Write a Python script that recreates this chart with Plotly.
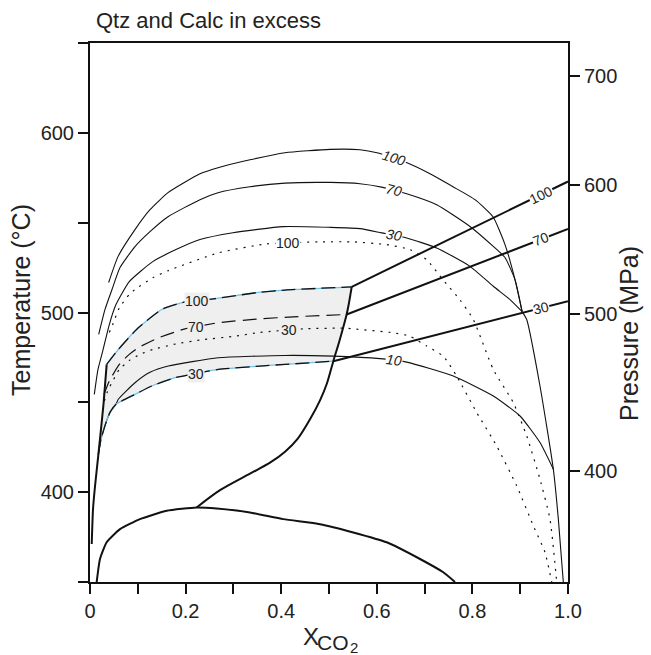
import numpy as np
import plotly.graph_objects as go

# ---------------- data (x = X_CO2, T in deg C) ----------------
CURVE100_X = [0.039, 0.0586, 0.0941, 0.1255, 0.1632, 0.2301, 0.2678, 0.3347, 0.4079, 0.5021, 0.5649, 0.6004,
              0.6632, 0.7113, 0.7594, 0.8054, 0.8431, 0.8682, 0.8891, 0.904]
CURVE100_T = [516.7, 531.1, 546.1, 557.2, 566.7, 577.2, 580.6, 585.0, 588.9, 590.8, 590.6, 588.9,
              583.3, 577.2, 570.0, 562.8, 553.3, 537.8, 518.3, 500.5]

CURVE70_X = [0.0182, 0.0314, 0.046, 0.0628, 0.0941, 0.1255, 0.1632, 0.2301, 0.2678, 0.3347, 0.4079, 0.5021,
             0.5649, 0.6102, 0.6625, 0.7253, 0.795, 0.8437, 0.8682, 0.8891, 0.904]
CURVE70_T = [487.8, 501.7, 512.8, 525.0, 536.7, 545.0, 553.3, 562.8, 566.7, 570.0, 572.0, 572.4,
             571.7, 569.8, 566.1, 560.0, 547.9, 536.8, 530.6, 518.3, 500.5]

CURVE30_X = [0.009, 0.0167, 0.0266, 0.0404, 0.0544, 0.0822, 0.1312, 0.1799, 0.2301, 0.2992, 0.4038, 0.5021,
             0.5649, 0.6102, 0.6625, 0.7253, 0.795, 0.8437, 0.8787, 0.904]
CURVE30_T = [454.4, 468.3, 478.5, 493.3, 504.4, 517.2, 528.3, 535.0, 540.6, 544.4, 547.8, 547.4,
             546.7, 544.3, 541.5, 535.9, 525.7, 514.6, 507.2, 500.5]

STEEP_X = [0.904, 0.9136, 0.9414, 0.9693, 0.9798, 0.9902]
STEEP_T = [500.5, 496.1, 459.1, 412.8, 385.0, 350.0]

CURVE10_X = [0.0174, 0.023, 0.0335, 0.0418, 0.0544, 0.0592, 0.0941, 0.1255, 0.1638, 0.2684, 0.4079, 0.5084,
             0.6067, 0.6625, 0.76, 0.8437, 0.8996, 0.9414, 0.9693]
CURVE10_T = [421.1, 429.4, 438.7, 444.4, 448.9, 451.7, 460.9, 466.7, 470.2, 474.8, 476.1, 475.7,
             474.3, 472.4, 464.6, 453.5, 442.4, 427.6, 412.8]

# boundaries of the shaded field
UPPER_X = [0.0349, 0.0592, 0.101, 0.15, 0.1987, 0.258, 0.3556, 0.4079, 0.5475]
UPPER_T = [471.1, 479.4, 491.5, 501.7, 505.9, 507.6, 511.3, 512.5, 514.3]
LOWER_X = [0.0174, 0.023, 0.0335, 0.0418, 0.0544, 0.0941, 0.1291, 0.1778, 0.2684, 0.3556, 0.4079, 0.509]
LOWER_T = [421.1, 429.4, 438.7, 444.4, 448.9, 454.4, 459.1, 463.7, 468.3, 470.2, 471.1, 472.9]

INNER70_X = [0.0293, 0.0404, 0.0613, 0.0822, 0.101, 0.1429, 0.1987, 0.2684, 0.3556, 0.4253, 0.5368]
INNER70_T = [454.4, 461.8, 471.1, 476.7, 480.4, 485.9, 490.9, 494.3, 496.5, 497.6, 498.9]

DOT30_X = [0.03, 0.037, 0.0475, 0.0613, 0.0822, 0.1046, 0.1312, 0.1799, 0.2301, 0.3033, 0.3556, 0.4462,
           0.5299, 0.5508, 0.6345, 0.6695, 0.7044, 0.7391, 0.7671, 0.809, 0.8508, 0.8927, 0.9274, 0.9519, 0.9659]
DOT30_T = [450.7, 456.3, 461.8, 468.3, 473.3, 476.7, 479.4, 482.5, 484.7, 486.8, 488.9, 490.9,
           491.3, 490.9, 488.7, 486.8, 481.3, 475.7, 464.6, 444.3, 425.7, 403.5, 381.3, 366.5, 350.0]

DOT100_X = [0.0404, 0.0475, 0.0613, 0.0822, 0.0941, 0.1312, 0.1638, 0.2684, 0.3697, 0.4812, 0.5508, 0.6207,
            0.6695, 0.7044, 0.7391, 0.7741, 0.8019, 0.8437, 0.8856, 0.9136, 0.9414, 0.9623, 0.9764]
DOT100_T = [488.9, 493.3, 502.6, 510.0, 512.8, 519.3, 523.3, 533.2, 538.2, 539.3, 539.3, 537.8,
            535.0, 529.4, 518.0, 507.0, 496.1, 468.3, 449.8, 431.3, 407.2, 385.0, 350.0]

REACTION_X = [0.5475, 0.5408, 0.5368, 0.5314, 0.5209, 0.509, 0.4958, 0.4812, 0.4603, 0.4351, 0.408, 0.3766,
              0.3347, 0.272, 0.2232]
REACTION_T = [514.3, 503.9, 498.9, 493.3, 483.3, 472.9, 460.6, 451.1, 440.6, 430.0, 422.5, 416.4,
              410.3, 401.1, 391.5]

DOME_X = [0.014, 0.0209, 0.0349, 0.0628, 0.1046, 0.1605, 0.2232, 0.2651, 0.3347, 0.4044, 0.4812, 0.5508,
          0.6207, 0.6904, 0.7391, 0.7636]
DOME_T = [350.0, 362.8, 372.1, 379.4, 385.0, 389.6, 391.5, 390.9, 388.7, 385.0, 382.2, 377.6,
          372.1, 362.8, 355.4, 350.0]

LEFT_X = [0.0036, 0.0063, 0.0105, 0.0174, 0.0282, 0.0349]
LEFT_T = [371.1, 390.6, 403.3, 420.6, 448.9, 471.1]

P100_X = [0.5475, 1.0]
P100_T = [514.3, 572.9]
P70_X = [0.5368, 1.0]
P70_T = [498.9, 546.5]
P30_X = [0.509, 1.0]
P30_T = [472.9, 506.3]

X_TICKS = [0, 0.1, 0.2, 0.3, 0.4, 0.5, 0.6, 0.7, 0.8, 0.9, 1.0]
X_TICKTEXT = ["0", " ", "0.2", " ", "0.4", " ", "0.6", " ", "0.8", " ", "1.0"]
T_TICKS = [350, 400, 450, 500, 550, 600, 650]
T_TICKTEXT = [" ", "400", " ", "500", " ", "600", " "]
P_TICKS = [400, 500, 600, 700]
P_TICKTEXT = ["400", "500", "600", "700"]

# ---------------- styling ----------------
FONT = "Liberation Sans, Arial, Helvetica, sans-serif"
FILL = "#efefef"
BLUE = "#72c3e8"
BLACK = "#111111"
TXT = "#222222"

fig = go.Figure()


def line(x, y, width=1.1, dash="solid", color=BLACK, smooth=0.5):
    fig.add_trace(go.Scatter(x=x, y=y, mode="lines", hoverinfo="skip",
                             line=dict(color=color, width=width, dash=dash, shape="spline", smoothing=smooth)))


# shaded field
poly_x = UPPER_X + REACTION_X[1:6] + LOWER_X[::-1][1:] + LEFT_X[3:]
poly_y = UPPER_T + REACTION_T[1:6] + LOWER_T[::-1][1:] + LEFT_T[3:]
fig.add_trace(go.Scatter(x=poly_x, y=poly_y, mode="lines", fill="toself", fillcolor=FILL,
                         line=dict(width=0), hoverinfo="skip"))

# thin solid curves
line(CURVE100_X, CURVE100_T)
line(CURVE70_X, CURVE70_T)
line(CURVE30_X, CURVE30_T)
line(STEEP_X, STEEP_T)
line(CURVE10_X, CURVE10_T)

# dotted curves
line(DOT100_X, DOT100_T, width=1.2, dash="2px,6px")
line(DOT30_X, DOT30_T, width=1.2, dash="2px,6px")
# inner long dashed
line(INNER70_X, INNER70_T, width=1.2, dash="14px,7px")

# blue/black dashed boundaries
line(UPPER_X, UPPER_T, width=1.3, color=BLUE)
line(UPPER_X, UPPER_T, width=1.3, dash="14px,6px")
line(LOWER_X, LOWER_T, width=1.3, color=BLUE)
line(LOWER_X, LOWER_T, width=1.3, dash="14px,6px")

# thick reaction lines
line(REACTION_X, REACTION_T, width=2.0, smooth=0.8)
line(DOME_X, DOME_T, width=2.0)
line(LEFT_X, LEFT_T, width=2.0)
line(P100_X, P100_T, width=2.0)
line(P70_X, P70_T, width=2.0)
line(P30_X, P30_T, width=2.0)

# pressure axis (dummy trace to activate y2)
fig.add_trace(go.Scatter(x=[None], y=[None], yaxis="y2", mode="lines", hoverinfo="skip"))

ann = []


def label(text, xv, curve_x, curve_t, angle=0, bg="white", italic=False, size=14):
    yv = float(np.interp(xv, curve_x, curve_t))
    t = f"<i>{text}</i>" if italic else text
    ann.append(dict(x=xv, y=yv, xref="x", yref="y", text=t, showarrow=False, textangle=angle,
                    font=dict(family=FONT, size=size, color=TXT), bgcolor=bg, borderpad=0))


label("100", 0.636, CURVE100_X, CURVE100_T, angle=17, italic=True)
label("70", 0.636, CURVE70_X, CURVE70_T, angle=14, italic=True)
label("30", 0.636, CURVE30_X, CURVE30_T, angle=11, italic=True)
label("10", 0.636, CURVE10_X, CURVE10_T, angle=7, italic=True)
label("100", 0.414, DOT100_X, DOT100_T)
label("30", 0.416, DOT30_X, DOT30_T, bg=FILL)
label("100", 0.224, UPPER_X, UPPER_T, bg=FILL)
label("70", 0.222, INNER70_X, INNER70_T, bg=FILL)
label("30", 0.222, LOWER_X, LOWER_T, bg=FILL)
label("100", 0.9435, P100_X, P100_T, angle=-26)
label("70", 0.9435, P70_X, P70_T, angle=-21)
label("30", 0.9435, P30_X, P30_T, angle=-14)


def ptxt(text, px, py, size, angle=0, xanchor="center"):
    # position given in figure pixels -> paper coordinates of the 478x539 plot area
    ann.append(dict(x=(px - 90) / 478.0, y=(582 - py) / 539.0, xref="paper", yref="paper",
                    xanchor=xanchor, yanchor="middle", text=text, showarrow=False, textangle=angle,
                    font=dict(family=FONT, size=size, color=TXT)))


ptxt("Qtz and Calc in excess", 94, 21, 22, xanchor="left")
ptxt("Temperature (°C)", 21, 300, 25, angle=-90)
ptxt("Pressure (MPa)", 629, 334, 25, angle=-90)
ptxt("X", 301, 636, 24, xanchor="left")
ptxt("CO", 315, 642, 21, xanchor="left")
ptxt("2", 348, 647, 15, xanchor="left")

axis_common = dict(showline=True, linecolor=BLACK, linewidth=2, ticks="outside", ticklen=10, tickwidth=1.6,
                   tickcolor=BLACK, showgrid=False, zeroline=False, automargin=False,
                   tickfont=dict(family=FONT, size=20, color=TXT))

fig.update_layout(
    width=651, height=655,
    margin=dict(l=90, r=83, t=43, b=73, autoexpand=False),
    plot_bgcolor="white", paper_bgcolor="white",
    showlegend=False,
    annotations=ann,
    xaxis=dict(range=[0, 1], tickvals=X_TICKS, ticktext=X_TICKTEXT, mirror=True, **axis_common),
    yaxis=dict(range=[350, 650], tickvals=T_TICKS, ticktext=T_TICKTEXT, **axis_common),
    yaxis2=dict(overlaying="y", side="right", type="log",
                range=[np.log10(342.0), np.log10(733.5)],
                tickvals=P_TICKS, ticktext=P_TICKTEXT, **axis_common),
)

fig.write_html("out.html", config={"displayModeBar": False},
               post_script="document.body.style.margin='0px';")
